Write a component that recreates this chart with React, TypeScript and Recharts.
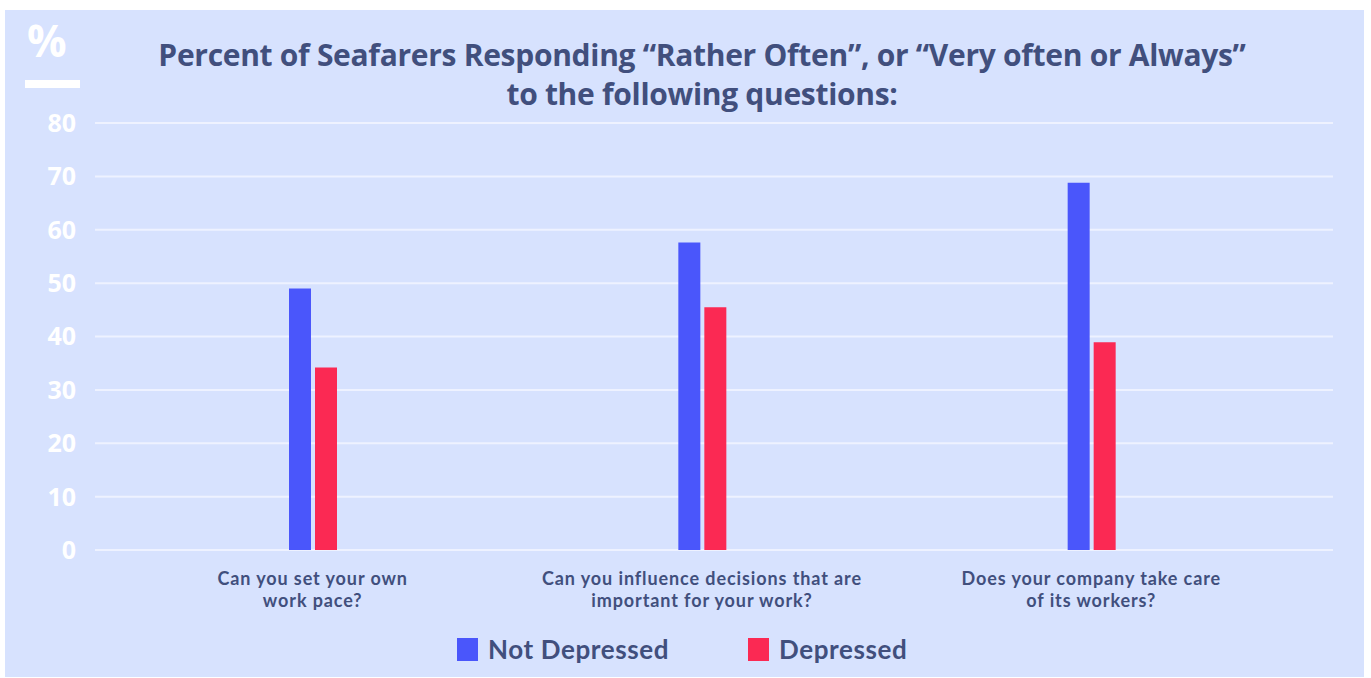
import React from "react";
import { BarChart, Bar, XAxis, YAxis, CartesianGrid, Legend } from "recharts";

const categories = [
  "Can you set your own|work pace?",
  "Can you influence decisions that are|important for your work?",
  "Does your company take care|of its workers?",
];
const notDepressed = [49, 57.6, 68.8];
const depressed = [34.2, 45.5, 38.9];
const yTicks = [0, 10, 20, 30, 40, 50, 60, 70, 80];

const data = categories.map((c, i) => ({
  name: c,
  notDepressed: notDepressed[i],
  depressed: depressed[i],
}));

const BG = "#d7e2fe";
const TEXT = "#414f7d";
const BLUE = "#4a56fb";
const RED = "#fb2953";
const FONT = "Lato, 'Noto Sans', sans-serif";
const WIDE = "'Open Sans', 'Noto Sans', sans-serif";

const XTick = (props: any) => {
  const { x, y, payload } = props;
  const lines = String(payload.value).split("|");
  return (
    <g>
      {lines.map((l, i) => (
        <text
          key={i}
          x={x}
          y={y + 35 + i * 22}
          textAnchor="middle"
          fill={TEXT}
          fontFamily={FONT}
          fontWeight={700}
          fontSize={18}
          letterSpacing={0.9}
        >
          {l}
        </text>
      ))}
    </g>
  );
};

const LegendContent = () => (
  <div style={{ position: "relative", width: 1371, height: 40 }}>
    {[
      { label: "Not Depressed", color: BLUE, x: 457 },
      { label: "Depressed", color: RED, x: 748 },
    ].map((it) => (
      <div
        key={it.label}
        style={{
          position: "absolute",
          left: it.x,
          top: 0,
          display: "flex",
          alignItems: "center",
          fontFamily: FONT,
          fontWeight: 700,
          fontSize: 26,
          letterSpacing: 0.6,
          color: TEXT,
        }}
      >
        <span
          style={{
            display: "inline-block",
            width: 21,
            height: 23,
            background: it.color,
            marginRight: 10,
          }}
        />
        {it.label}
      </div>
    ))}
  </div>
);

export default function App() {
  return (
    <div
      style={{
        position: "absolute",
        left: 0,
        top: 0,
        width: 1371,
        height: 678,
        background: "#ffffff",
        overflow: "hidden",
      }}
    >
      <div
        style={{
          position: "absolute",
          left: 5,
          top: 10,
          width: 1359,
          height: 667,
          background: BG,
        }}
      />
      <div
        style={{
          position: "absolute",
          left: 27,
          top: 13,
          fontFamily: WIDE,
          fontWeight: 700,
          fontSize: 44,
          color: "#ffffff",
          lineHeight: "54px",
        }}
      >
        %
      </div>
      <div
        style={{
          position: "absolute",
          left: 25,
          top: 80,
          width: 55,
          height: 8,
          background: "#ffffff",
        }}
      />
      <div
        style={{
          position: "absolute",
          left: 0,
          top: 35,
          width: 1404,
          textAlign: "center",
          fontFamily: WIDE,
          fontWeight: 700,
          fontSize: 30,
          lineHeight: "39px",
          color: TEXT,
          letterSpacing: -0.3,
        }}
      >
        Percent of Seafarers Responding “Rather Often”, or “Very often or Always”
        <br />
        to the following questions:
      </div>
      <div style={{ position: "absolute", left: 0, top: 0 }}>
        <BarChart
          width={1371}
          height={678}
          data={data}
          margin={{ top: 123, right: 38, bottom: 28, left: 0 }}
          barSize={22}
          barGap={4}
        >
          <CartesianGrid vertical={false} stroke="#eef2ff" strokeWidth={2} />
          <XAxis
            dataKey="name"
            axisLine={false}
            tickLine={false}
            tickSize={0}
            tickMargin={0}
            tick={<XTick />}
            interval={0}
            padding={{ left: 23, right: 47 }}
            height={60}
          />
          <YAxis
            domain={[0, 80]}
            ticks={yTicks}
            width={95}
            axisLine={false}
            tickLine={false}
            tickSize={0}
            tickMargin={19}
            tick={{
              fill: "#ffffff",
              fontFamily: WIDE,
              fontWeight: 700,
              fontSize: 25,
            }}
          />
          <Legend
            content={<LegendContent />}
            wrapperStyle={{ left: 0, top: 633, width: 1371, height: 40 }}
          />
          <Bar
            dataKey="notDepressed"
            name="Not Depressed"
            fill={BLUE}
            isAnimationActive={false}
          />
          <Bar
            dataKey="depressed"
            name="Depressed"
            fill={RED}
            isAnimationActive={false}
          />
        </BarChart>
      </div>
    </div>
  );
}
